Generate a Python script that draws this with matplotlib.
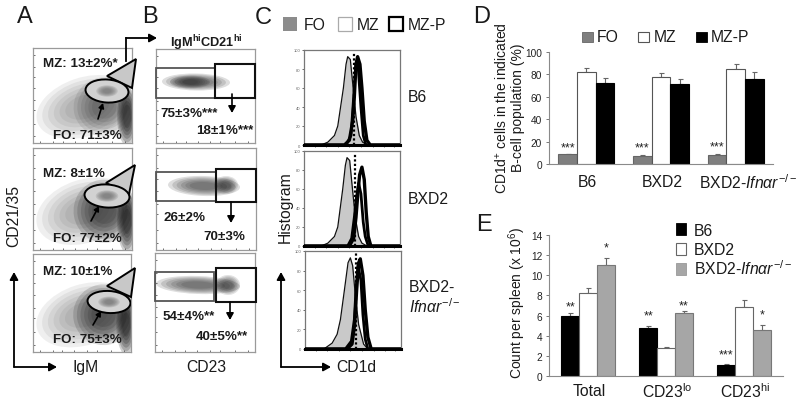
import matplotlib
matplotlib.use('Agg')
import matplotlib.pyplot as plt
from matplotlib.patches import Ellipse, Polygon, Rectangle

plt.rcParams['font.family'] = ['Liberation Sans', 'DejaVu Sans']
plt.rcParams['mathtext.fontset'] = 'custom'
plt.rcParams['mathtext.rm'] = 'Liberation Sans'
plt.rcParams['mathtext.it'] = 'Liberation Sans:italic'
plt.rcParams['mathtext.bf'] = 'Liberation Sans:bold'
plt.rcParams['mathtext.default'] = 'regular'

W, H = 800, 406
KO = r'BXD2-$\mathit{Ifn\alpha r}^{-/-}$'

# ---- panel D
d_groups = ['B6', 'BXD2', KO]
d_fo = [8.5, 7.5, 8.0]
d_mz = [82, 78, 85]
d_mzp = [72, 71, 76]
d_fo_err = [0.5, 0.5, 0.5]
d_mz_err = [4, 3, 4.5]
d_mzp_err = [4.5, 4.5, 6]
d_stars = ['***', '***', '***']
d_star_y = [15, 15, 15.5]
d_ticks = [0, 20, 40, 60, 80, 100]

# ---- panel E
e_groups = ['Total', r'CD23$^{lo}$', r'CD23$^{hi}$']
e_b6 = [6.0, 4.8, 1.05]
e_bxd2 = [8.25, 2.8, 6.9]
e_ko = [11.05, 6.3, 4.6]
e_b6_err = [0.25, 0.2, 0.1]
e_bxd2_err = [0.45, 0.1, 0.6]
e_ko_err = [0.7, 0.2, 0.5]
e_b6_stars = ['**', '**', '***']
e_b6_star_y = [6.9, 6.0, 2.1]
e_ko_stars = ['*', '**', '*']
e_ko_star_y = [12.8, 7.0, 6.1]
e_ticks = [0, 2, 4, 6, 8, 10, 12, 14]

# ---- panel C histograms (channel, % of max)
c1_fo_x = [28, 80, 100, 120, 130, 147, 155, 160, 168, 175, 185, 195, 205, 220, 318]
c1_fo_y = [0, 0, 3, 10, 20, 60, 85, 93, 90, 65, 30, 10, 3, 0, 0]
c1_mz_x = [28, 155, 170, 178, 185, 190, 200, 207, 215, 318]
c1_mz_y = [0, 0, 10, 50, 85, 90, 40, 10, 0, 0]
c1_mzp_x = [28, 150, 165, 175, 180, 185, 190, 197, 203, 210, 218, 228, 318]
c1_mzp_y = [0, 0, 5, 25, 50, 85, 93, 85, 60, 25, 5, 0, 0]
c2_fo_x = [28, 80, 100, 120, 130, 145, 153, 158, 166, 173, 183, 193, 203, 218, 318]
c2_fo_y = [0, 0, 3, 10, 20, 60, 85, 93, 90, 65, 30, 10, 3, 0, 0]
c2_mz_x = [28, 160, 172, 180, 186, 193, 200, 207, 213, 222, 318]
c2_mz_y = [0, 0, 8, 30, 50, 66, 55, 25, 10, 0, 0]
c2_mzp_x = [28, 165, 178, 185, 190, 196, 203, 210, 216, 222, 230, 318]
c2_mzp_y = [0, 0, 8, 30, 52, 75, 83, 70, 35, 10, 0, 0]
c3_fo_x = [28, 85, 110, 125, 135, 147, 158, 165, 172, 180, 190, 205, 218, 318]
c3_fo_y = [0, 0, 6, 15, 30, 60, 88, 93, 85, 55, 25, 5, 0, 0]
c3_mz_x = [28, 150, 168, 177, 182, 188, 197, 203, 210, 218, 318]
c3_mz_y = [0, 0, 8, 30, 60, 85, 70, 35, 10, 0, 0]
c3_mzp_x = [28, 155, 170, 178, 184, 190, 195, 203, 210, 218, 228, 318]
c3_mzp_y = [0, 0, 5, 25, 60, 88, 92, 75, 40, 12, 0, 0]
c_hist = [(c1_fo_x, c1_fo_y, c1_mz_x, c1_mz_y, c1_mzp_x, c1_mzp_y),
          (c2_fo_x, c2_fo_y, c2_mz_x, c2_mz_y, c2_mzp_x, c2_mzp_y),
          (c3_fo_x, c3_fo_y, c3_mz_x, c3_mz_y, c3_mzp_x, c3_mzp_y)]
c_dotted = [180, 182, 183]
c_ticks = [0, 20, 40, 60, 80, 100]

fig = plt.figure(figsize=(W / 100, H / 100), dpi=100, facecolor='white')


def px_axes(x0, y0, x1, y1, **kw):
    return fig.add_axes([x0 / W, 1 - y1 / H, (x1 - x0) / W, (y1 - y0) / H], **kw)


def flow_axes(x0, y0, x1, y1):
    ax = px_axes(x0, y0, x1, y1)
    ax.set_xlim(x0, x1)
    ax.set_ylim(y1, y0)
    for s in ax.spines.values():
        s.set_color('#9a9a9a')
        s.set_linewidth(0.9)
    ax.set_xticks([x0 + (x1 - x0) * f for f in (0.07, 0.2, 0.3, 0.42, 0.55, 0.65, 0.8, 0.93)])
    ax.set_yticks([y0 + (y1 - y0) * f for f in (0.07, 0.2, 0.3, 0.42, 0.55, 0.65, 0.8, 0.93)])
    ax.tick_params(length=1.5, width=0.6, color='#555555', direction='in',
                   labelbottom=False, labelleft=False)
    return ax


def blob(ax, cx, cy, w, h, ang, shade, alpha):
    for s in (1.0, 0.88, 0.76, 0.64, 0.52, 0.4):
        ax.add_patch(Ellipse((cx, cy), w * s, h * s, angle=ang, fc=shade, ec='none',
                             alpha=alpha, zorder=1))


# ---- panel A flow plots
a_frames = [(33, 49, 132, 144), (33, 149, 132, 251), (33, 255, 131, 353)]
a_tri = [[(107, 77), (136, 60), (132, 89)],
         [(106, 184), (135, 166), (129, 195)],
         [(107, 287), (135, 269), (131, 298)]]
a_ell = [(107, 92, 43, 23), (107, 197, 45, 23), (109, 303, 43, 22)]
a_dark = [0.10, 0.17, 0.17]
for fr, tri, el, dk in zip(a_frames, a_tri, a_ell, a_dark):
    ax = flow_axes(*fr)
    x0, y0, x1, y1 = fr
    w, h = x1 - x0, y1 - y0
    blob(ax, x0 + 0.52 * w, y0 + 0.62 * h, 1.0 * w, 0.62 * h, -18, '#555555', 0.09)
    blob(ax, x0 + 0.72 * w, y0 + 0.62 * h, 0.62 * w, 0.62 * h, -10, '#222222', dk)
    blob(ax, x0 + 0.95 * w, y0 + 0.72 * h, 0.2 * w, 0.62 * h, 0, '#111111', 0.2)
    ax.add_patch(Polygon(tri, closed=True, fc='#c8c8c8', ec='black', lw=1.4, zorder=3, clip_on=False))
    ax.add_patch(Ellipse(el[:2], el[2], el[3], angle=4, fc='#d2d2d2', ec='black', lw=1.4, zorder=3))
    blob(ax, el[0], el[1], el[2] * 0.5, el[3] * 0.5, 0, '#666666', 0.18)
    for p in ax.patches[-6:]:
        p.set_zorder(4)

# ---- panel B flow plots
b_frames = [(156, 50, 255, 144), (156, 149, 256, 251), (155, 254, 255, 353)]
b_gray = [(156, 69, 215, 99), (156, 173, 216, 202), (155, 273, 214, 302)]
b_black = [(215, 65, 255, 99), (216, 170, 256, 203), (216, 269, 256, 303)]
b_cloud = [(196, 83, 68, 17, 1), (204, 187, 72, 20, 2), (198, 286, 84, 18, 2)]
b_dense = [(190, 83, 40, 13), (226, 186, 24, 18), (228, 286, 24, 20)]
for fr, g, b, cl, de in zip(b_frames, b_gray, b_black, b_cloud, b_dense):
    ax = flow_axes(*fr)
    blob(ax, cl[0], cl[1], cl[2], cl[3], cl[4], '#333333', 0.16)
    blob(ax, de[0], de[1], de[2], de[3], 0, '#222222', 0.13)
    ax.add_patch(Rectangle((g[0], g[1]), g[2] - g[0], g[3] - g[1], fc='none', ec='#555555', lw=1.3, zorder=3, clip_on=False))
    ax.add_patch(Rectangle((b[0], b[1]), b[2] - b[0], b[3] - b[1], fc='none', ec='#111111', lw=1.5, zorder=4, clip_on=False))

# ---- panel C histograms
c_frames = [(304, 51, 400, 146), (304, 152, 400, 247), (305, 252, 401, 350)]
for fr, hist, dot in zip(c_frames, c_hist, c_dotted):
    ax = px_axes(*fr)
    fx, fy, mx, my, px, py = hist
    ax.fill_between(fx, fy, 0, color='#c9c9c9', lw=0, zorder=1)
    ax.plot(fx, fy, color='#111111', lw=0.9, zorder=2)
    ax.plot(mx, my, color='black', lw=2.0, zorder=3)
    ax.plot(px, py, color='black', lw=2.4, zorder=3)
    ax.plot([28, 318], [0, 0], color='black', lw=2.2, zorder=3, clip_on=False)
    ax.plot([dot, dot], [0, 98], color='black', lw=1.6, ls=(0, (1, 1)), zorder=5)
    ax.set_xlim(28, 318)
    ax.set_ylim(0, 100)
    ax.set_yticks(c_ticks)
    ax.set_yticklabels(c_ticks, fontsize=3, color='#666666')
    ax.set_xticks([60, 95, 130, 165, 200, 235, 270, 300])
    ax.tick_params(axis='x', length=1.5, width=0.6, labelbottom=False, direction='out', color='#555555')
    ax.tick_params(axis='y', length=1.5, width=0.6, pad=1, color='#555555')
    for s in ax.spines.values():
        s.set_color('#777777')
        s.set_linewidth(0.9)


def bar_axes(x0, y0, x1, y1, ymax, ticks):
    ax = px_axes(x0, y0, x1, y1)
    ax.set_xlim(-0.5, 2.5)
    ax.set_ylim(0, ymax)
    ax.set_yticks(ticks)
    ax.set_yticklabels(ticks, fontsize=7.3, color='#222222')
    ax.set_xticks([])
    ax.tick_params(axis='y', length=2.5, width=0.7, color='#777777', pad=2.5)
    for s in ('top', 'right'):
        ax.spines[s].set_visible(False)
    for s in ('left', 'bottom'):
        ax.spines[s].set_color('#8a8a8a')
        ax.spines[s].set_linewidth(0.8)
    ax.patch.set_alpha(0)
    return ax


def bars(ax, pos, vals, errs, face, edge, width):
    ax.bar(pos, vals, width=width, color=face, edgecolor=edge, linewidth=0.8, zorder=2)
    ax.errorbar(pos, vals, yerr=[[0] * len(errs), errs], fmt='none', ecolor='#666666',
                elinewidth=0.8, capsize=1.8, capthick=0.8, zorder=1)


# ---- panel D bars
axd = bar_axes(549, 53, 773, 165, 100, d_ticks)
wd = 0.25
gd = [0, 1, 2]
bars(axd, [g - wd for g in gd], d_fo, d_fo_err, '#7f7f7f', '#666666', wd)
bars(axd, gd, d_mz, d_mz_err, 'white', '#555555', wd)
bars(axd, [g + wd for g in gd], d_mzp, d_mzp_err, 'black', 'black', wd)
for g, s, y in zip(gd, d_stars, d_star_y):
    axd.text(g - wd, y, s, ha='center', va='center', fontsize=9, color='#222222')

# ---- panel E bars
axe = bar_axes(549, 236, 783, 377, 14, e_ticks)
we = 0.227
bars(axe, [g - we for g in gd], e_b6, e_b6_err, 'black', 'black', we)
bars(axe, gd, e_bxd2, e_bxd2_err, 'white', '#666666', we)
bars(axe, [g + we for g in gd], e_ko, e_ko_err, '#a6a6a6', '#777777', we)
for g, s, y in zip(gd, e_b6_stars, e_b6_star_y):
    axe.text(g - we, y, s, ha='center', va='center', fontsize=9, color='#222222')
for g, s, y in zip(gd, e_ko_stars, e_ko_star_y):
    axe.text(g + we, y, s, ha='center', va='center', fontsize=9, color='#222222')

# ---- overlay: labels, arrows, legends
ov = px_axes(0, 0, W, H, zorder=20)
ov.set_xlim(0, W)
ov.set_ylim(H, 0)
ov.axis('off')
ov.patch.set_alpha(0)


def T(x, y, s, size=11.3, ha='left', va='center', rot=0, weight='normal', color='#1a1a1a', **kw):
    ov.text(x, y, s, fontsize=size, ha=ha, va=va, rotation=rot, fontweight=weight, color=color, **kw)


def arrow(pts, lw=1.3, ms=8):
    xs = [p[0] for p in pts]
    ys = [p[1] for p in pts]
    ov.plot(xs[:-1], ys[:-1], color='black', lw=lw, solid_joinstyle='miter')
    ov.annotate('', xy=pts[-1], xytext=pts[-2],
                arrowprops=dict(arrowstyle='-|>,head_width=0.22,head_length=0.4', color='black',
                                lw=lw, shrinkA=0, shrinkB=0, mutation_scale=ms * 1.4))


for x, y, s in [(17, 17, 'A'), (142, 17, 'B'), (255, 18, 'C'), (473, 17, 'D'), (476, 225, 'E')]:
    T(x, y, s, size=17)

T(43, 64, 'MZ: 13±2%*', size=9.6, weight='bold')
T(53, 136, 'FO: 71±3%', size=9.6, weight='bold')
T(43, 174, 'MZ: 8±1%', size=9.6, weight='bold')
T(53, 239, 'FO: 77±2%', size=9.6, weight='bold')
T(43, 272, 'MZ: 10±1%', size=9.6, weight='bold')
T(53, 340, 'FO: 75±3%', size=9.6, weight='bold')
T(160, 114, '75±3%***', size=9.6, weight='bold')
T(196, 131, '18±1%***', size=9.6, weight='bold')
T(163, 218, '26±2%', size=9.6, weight='bold')
T(203, 237, '70±3%', size=9.6, weight='bold')
T(163, 317, '54±4%**', size=9.6, weight='bold')
T(196, 337, '40±5%**', size=9.6, weight='bold')
T(170, 43, r'IgM$^{\mathbf{hi}}$CD21$^{\mathbf{hi}}$', size=9.2, weight='bold')

T(14, 216, 'CD21/35', rot=90, ha='center')
T(86, 368, 'IgM', ha='center')
T(206, 368, 'CD23', ha='center')
T(356, 368, 'CD1d', ha='center')
T(285, 207, 'Histogram', rot=90, ha='center')
T(408, 98, 'B6')
T(408, 200, 'BXD2')
T(409, 288, 'BXD2-')
T(409, 307, r'$\mathit{Ifn\alpha r}^{-/-}$')

arrow([(14, 368), (14, 273)])
arrow([(14, 368), (57, 368)])
arrow([(281, 368), (281, 273)])
arrow([(281, 368), (331, 368)])
arrow([(126, 62), (126, 39), (157, 39)])
for p in ([(98, 120), (103, 104)], [(91, 222), (99, 207)], [(93, 326), (101, 312)]):
    arrow(p, lw=1.2, ms=5)
for p in ([(232, 95), (232, 114)], [(231, 203), (231, 224)], [(230, 303), (230, 321)]):
    arrow(p, lw=1.2, ms=7)

# C legend
ov.add_patch(Rectangle((283, 18), 14, 14, fc='#8c8c8c', ec='none'))
ov.add_patch(Rectangle((338, 18), 14, 14, fc='white', ec='#aaaaaa', lw=0.9))
ov.add_patch(Rectangle((389, 18), 14, 14, fc='white', ec='black', lw=1.6))
T(304, 25, 'FO')
T(357, 25, 'MZ')
T(408, 25, 'MZ-P')

# D legend and labels
ov.add_patch(Rectangle((582, 33), 11, 10, fc='#7f7f7f', ec='#666666', lw=0.6))
ov.add_patch(Rectangle((638, 33), 11, 10, fc='white', ec='#555555', lw=0.8))
ov.add_patch(Rectangle((696, 33), 11, 10, fc='black', ec='black', lw=0.6))
T(597, 38, 'FO')
T(654, 38, 'MZ')
T(711, 38, 'MZ-P')
T(502, 108, r'CD1d$^{+}$ cells in the indicated', size=10, rot=90, ha='center')
T(518, 108, 'B-cell population (%)', size=10, rot=90, ha='center')
for x, s in zip([587, 662, 748], d_groups):
    T(x, 183, s, ha='center')

# E legend and labels
ov.add_patch(Rectangle((676, 224), 10, 12, fc='black', ec='black', lw=0.6))
ov.add_patch(Rectangle((676, 244), 10, 12, fc='white', ec='#666666', lw=0.8))
ov.add_patch(Rectangle((676, 264), 10, 12, fc='#a6a6a6', ec='#999999', lw=0.6))
T(694, 232, 'B6')
T(694, 251, 'BXD2')
T(694, 269, KO)
T(517, 303, r'Count per spleen (x 10$^{6}$)', size=10, rot=90, ha='center')
for x, s in zip([589, 667, 745], e_groups):
    T(x, 392, s, ha='center')

fig.savefig('out.png', dpi=100)
